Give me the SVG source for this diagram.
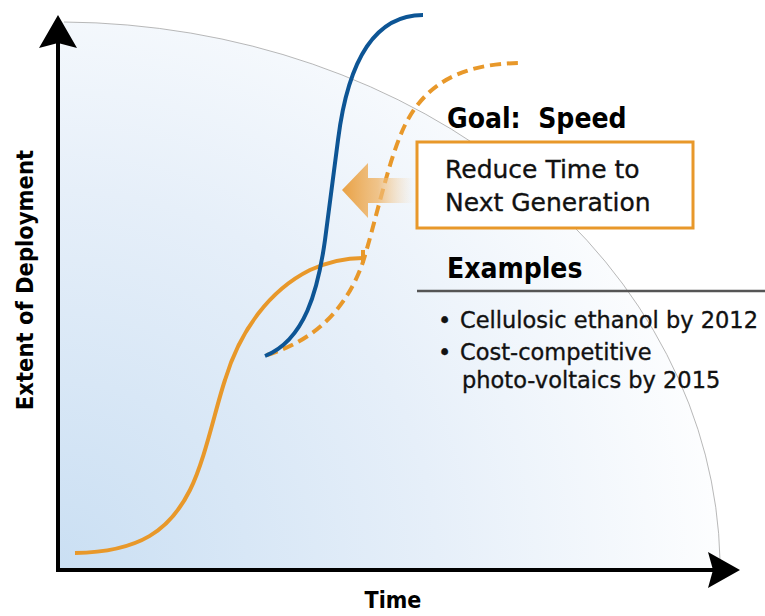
<svg xmlns="http://www.w3.org/2000/svg" width="765" height="616" viewBox="0 0 765 616">
<style>
.ax{stroke:#000;stroke-width:4;fill:none}
.head{fill:#000}
.orange{stroke:#e8982a;stroke-width:4;fill:none;stroke-linecap:butt}
.blue{stroke:#0d5595;stroke-width:4;fill:none}
.hd{font-family:"DejaVu Sans Condensed","DejaVu Sans",sans-serif;font-stretch:condensed;font-weight:bold;fill:#000}
.tx{font-family:"DejaVu Sans",sans-serif;fill:#111;stroke:#111;stroke-width:0.35}
</style>
<defs>
<radialGradient id="bg" cx="58" cy="570" r="690" gradientUnits="userSpaceOnUse">
<stop offset="0" stop-color="#cadff3"/>
<stop offset="0.55" stop-color="#e6eff9"/>
<stop offset="1" stop-color="#ffffff"/>
</radialGradient>
<linearGradient id="arr" x1="342" y1="0" x2="414" y2="0" gradientUnits="userSpaceOnUse">
<stop offset="0" stop-color="#e9a144"/>
<stop offset="0.5" stop-color="#efb76e" stop-opacity="0.8"/>
<stop offset="1" stop-color="#f6d6ac" stop-opacity="0"/>
</linearGradient>
</defs>
<g id="background">
<path d="M58,570 L58,22 A662,548 0 0 1 720,570 Z" fill="url(#bg)"/>
<path d="M64,22 A662,548 0 0 1 720,560" fill="none" stroke="#9a9a9a" stroke-width="0.7"/>
</g>
<g id="axes">
<line class="ax" x1="58" y1="572" x2="58" y2="40"/>
<polygon class="head" points="58,15 77,48 58,43 39,48"/>
<line class="ax" x1="56" y1="570" x2="715" y2="570"/>
<polygon class="head" points="740,570 708,552 713,570 708,588"/>
<text class="hd" x="393" y="608" font-size="23" text-anchor="middle">Time</text>
<text class="hd" transform="translate(33,280) rotate(-90)" font-size="23.5" text-anchor="middle">Extent of Deployment</text>
</g>
<g id="curves">
<path id="current" class="orange" d="M75,553 C140,552 170,530 190,490 C205,460 215,410 225,380 C240,330 270,290 310,270 C330,261 345,258 363,258"/>
<line class="orange" x1="363" y1="250" x2="363" y2="263" stroke-width="3"/>
<path id="delayed" class="orange" stroke-dasharray="11,6" d="M267,355 C315,340 345,310 362,265 C375,225 388,160 405,125 C425,85 460,63 523,63"/>
<path id="accelerated" class="blue" d="M265,356 C305,340 318,290 325,240 L338,140 C348,60 375,15 423,15"/>
</g>
<g id="shift-arrow">
<polygon points="342,190 368,163 368,178 414,178 414,203 368,203 368,218" fill="url(#arr)"/>
</g>
<g id="goal">
<text class="hd" x="447" y="128" font-size="28" xml:space="preserve">Goal:  Speed</text>
</g>
<g id="goal-box">
<rect x="417" y="142" width="276" height="86" fill="#fff" stroke="#e8982a" stroke-width="3"/>
<text class="tx" x="445" y="178" font-size="25">Reduce Time to</text>
<text class="tx" x="445" y="211" font-size="25">Next Generation</text>
</g>
<g id="examples">
<text class="hd" x="447" y="278" font-size="28">Examples</text>
<line x1="417" y1="291" x2="765" y2="291" stroke="#555" stroke-width="2.5"/>
<text class="tx" x="438" y="328" font-size="22.5">•</text>
<text class="tx" x="460" y="328" font-size="22.5">Cellulosic ethanol by 2012</text>
<text class="tx" x="438" y="360" font-size="22.5">•</text>
<text class="tx" x="460" y="360" font-size="22.5">Cost-competitive</text>
<text class="tx" x="462" y="388" font-size="22.5">photo-voltaics by 2015</text>
</g>
</svg>
